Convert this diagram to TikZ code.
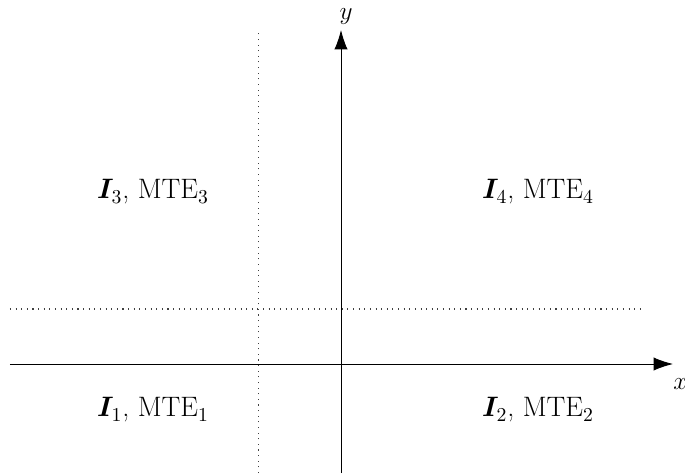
\documentclass[tikz,border=0pt]{standalone}
\usepackage{fix-cm}
\usepackage{amsmath,bm}
\usepackage{tikz}
\usetikzlibrary{arrows.meta,positioning}

\begin{document}
\begin{tikzpicture}[
    eje/.style={->,line width=0.5pt},
    guia/.style={dash pattern=on 0.6pt off 2.6pt,line width=0.6pt,black!75},
    cuadrante/.style={font=\fontsize{16}{19}\selectfont},
    etiqueta/.style={font=\Large,inner sep=0pt},
    >={Latex[length=11pt,width=7.5pt]}]
  \useasboundingbox (-6.82,-2.18) rectangle (6.88,7.28);
  % ejes
  \coordinate (xa) at (-6.62,0);
  \coordinate (xb) at (6.64,0);
  \coordinate (ya) at (0,-2.18);
  \coordinate (yb) at (0,6.68);
  \draw[eje] (xa) -- (xb);
  \draw[eje] (ya) -- (yb);
  \node[etiqueta,below right=0.28cm and 0.0cm of xb] (xl) {$x$};
  \node[etiqueta,above=0.1cm of yb,xshift=0.1cm] (yl) {$y$};
  % umbrales
  \coordinate (va) at (-1.65,-2.18);
  \coordinate (vb) at (-1.65,6.62);
  \coordinate (ha) at (-6.62,1.1);
  \coordinate (hb) at (6.08,1.1);
  \draw[guia] (va) -- (vb);
  \draw[guia] (ha) -- (hb);
  % regiones
  \node[cuadrante] (q3) at (-3.76,3.44) {$\bm{I}_3$, MTE$_3$};
  \node[cuadrante] (q4) at (3.94,3.44) {$\bm{I}_4$, MTE$_4$};
  \node[cuadrante] (q1) at (-3.76,-0.92) {$\bm{I}_1$, MTE$_1$};
  \node[cuadrante] (q2) at (3.94,-0.92) {$\bm{I}_2$, MTE$_2$};
\end{tikzpicture}
\end{document}
